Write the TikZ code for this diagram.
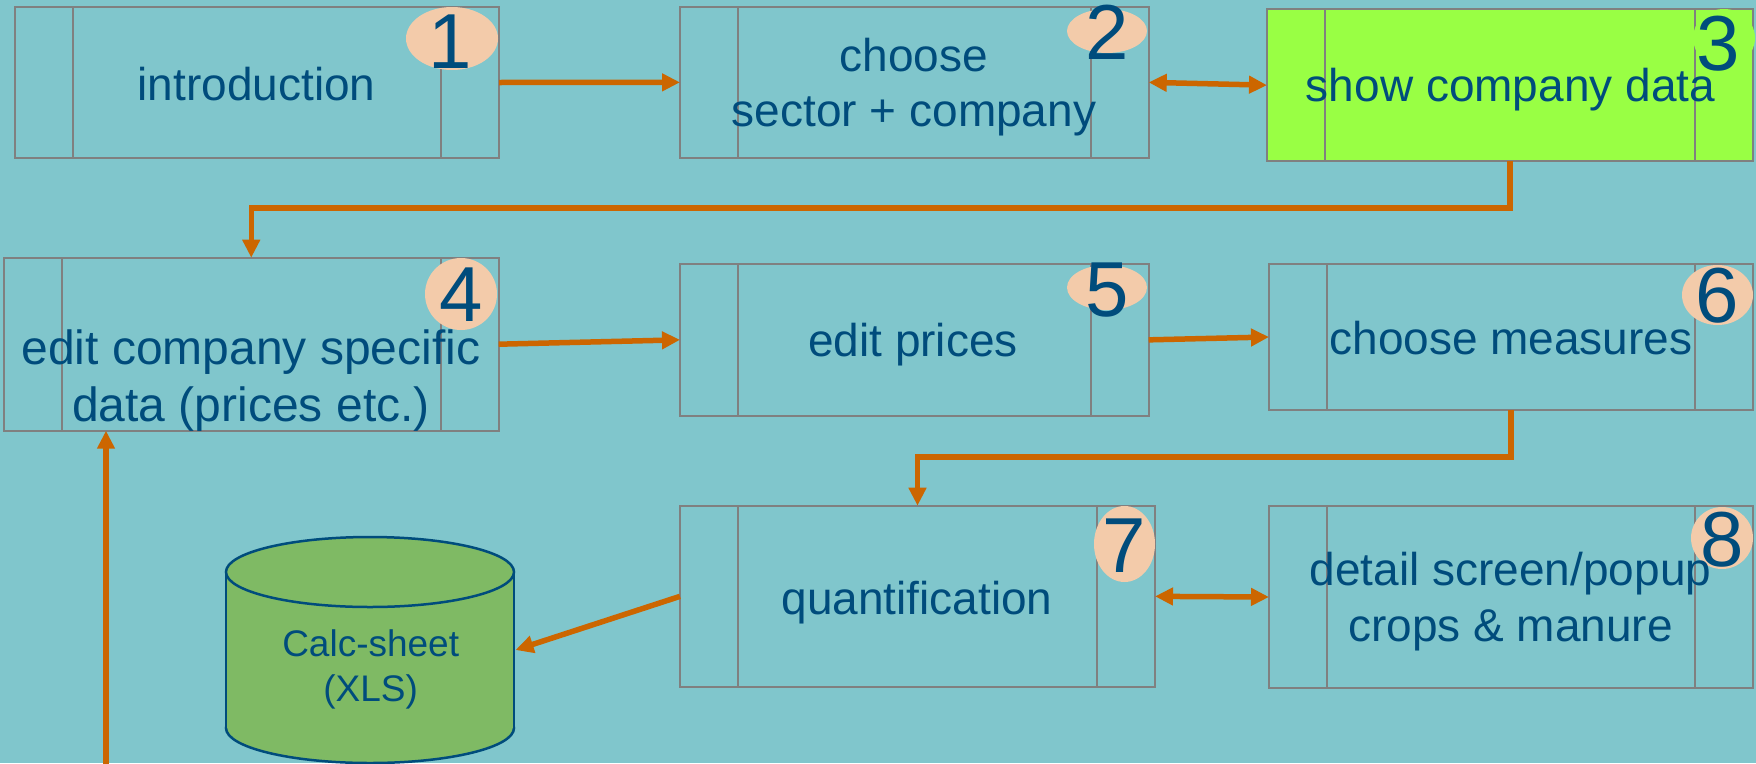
\documentclass[tikz,border=0pt]{standalone}
\usepackage{fontspec}
\setmainfont{Liberation Sans}
\usetikzlibrary{arrows.meta,shapes.geometric}
\definecolor{bg}{RGB}{128,198,204}
\definecolor{boxgray}{RGB}{128,128,128}
\definecolor{lime}{RGB}{153,255,68}
\definecolor{peach}{RGB}{243,203,170}
\definecolor{txt}{RGB}{0,76,124}
\definecolor{orng}{RGB}{204,102,0}
\definecolor{cylgreen}{RGB}{127,186,100}
\begin{document}
\begin{tikzpicture}[x=1pt,y=-1pt,
  box/.style={draw=boxgray, line width=2pt, rectangle, inner sep=0pt, outer sep=0pt},
  lbl/.style={text=txt, font=\fontsize{46}{55}\selectfont, inner sep=0pt, anchor=base},
  biglbl/.style={text=txt, font=\fontsize{48}{58}\selectfont, inner sep=0pt, anchor=base},
  smlbl/.style={text=txt, font=\fontsize{37}{45}\selectfont, inner sep=0pt, anchor=base},
  numell/.style={ellipse, fill=peach, inner sep=0pt, outer sep=0pt},
  digit/.style={text=txt, font=\fontsize{78}{90}\selectfont, inner sep=0pt},
  arr/.style={draw=orng, line width=5.5pt, -{Triangle[length=18pt,width=17pt]}},
  darr/.style={draw=orng, line width=5.5pt, {Triangle[length=18pt,width=17pt]}-{Triangle[length=18pt,width=17pt]}}]
\fill[bg] (0,0) rectangle (1756,763);
\useasboundingbox (0,0) rectangle (1756,763);

% boxes
\node[box, minimum width=484.5pt, minimum height=151pt] (b1) at (256.75,82.5) {};
\node[box, minimum width=468.7pt, minimum height=151.3pt] (b2) at (914.35,82.35) {};
\node[box, fill=lime, minimum width=486pt, minimum height=151.7pt] (b3) at (1510,85.15) {};
\node[box, minimum width=494.9pt, minimum height=173pt] (b4) at (251.25,344.2) {};
\node[box, minimum width=468.7pt, minimum height=151.7pt] (b5) at (914.35,339.85) {};
\node[box, minimum width=484pt, minimum height=146pt] (b6) at (1511,337) {};
\node[box, minimum width=475pt, minimum height=181.3pt] (b7) at (917.5,596.35) {};
\node[box, minimum width=484pt, minimum height=182pt] (b8) at (1511,597) {};
\foreach \n in {b1,b2,b3,b4,b5,b6,b7,b8}{
  \draw[boxgray, line width=2pt] ([xshift=58pt]\n.north west) -- ([xshift=58pt]\n.south west);
  \draw[boxgray, line width=2pt] ([xshift=-58pt]\n.north east) -- ([xshift=-58pt]\n.south east);
}

% number ellipses
\node[numell, minimum width=92pt, minimum height=63pt] (e1) at (452,38.5) {};
\node[numell, minimum width=80pt, minimum height=44pt] (e2) at (1107,31) {};
\node[ellipse, fill=lime, inner sep=0pt, minimum width=62pt, minimum height=58pt] (e3) at (1724,38) {};
\node[numell, minimum width=72pt, minimum height=72pt] (e4) at (461,294) {};
\node[numell, minimum width=80pt, minimum height=45pt] (e5) at (1107,287.5) {};
\node[numell, minimum width=71pt, minimum height=60pt] (e6) at (1717.5,295) {};
\node[numell, minimum width=61pt, minimum height=76pt] (e7) at (1124.5,544) {};
\node[numell, minimum width=62pt, minimum height=62pt] (e8) at (1722,538) {};

\node[digit] (d1) at (449.7,41.3) {1};
\node[digit] (d2) at (1107,32.5) {2};
\node[digit] (d3) at (1718,44) {3};
\node[digit] (d4) at (461,295) {4};
\node[digit] (d5) at (1107,290) {5};
\node[digit] (d6) at (1717,296) {6};
\node[digit] (d7) at (1124.6,545.8) {7};
\node[digit] (d8) at (1722,540) {8};

% texts
\node[lbl] (t1) at (256.5,100) {introduction};
\node[lbl] (t2a) at (914,71.7) {choose};
\node[lbl] (t2b) at (914,126.7) {sector + company};
\node[lbl] (t3) at (1510.5,101.7) {show company data};
\node[biglbl] (t4a) at (251,364) {edit company specific};
\node[biglbl] (t4b) at (251,421.7) {data (prices etc.)};
\node[lbl] (t5) at (913,356.7) {edit prices};
\node[lbl] (t6) at (1511,354) {choose measures};
\node[lbl] (t7) at (917,614) {quantification};
\node[lbl] (t8a) at (1510.5,585) {detail screen/popup};
\node[lbl] (t8b) at (1510.5,641.7) {crops \& manure};

% cylinder
\fill[cylgreen, draw=txt, line width=2.5pt] (370,728) ellipse [x radius=144pt, y radius=35pt];
\fill[cylgreen] (226,572) rectangle (514,728);
\draw[txt, line width=2.5pt] (226,572) -- (226,728);
\draw[txt, line width=2.5pt] (514,572) -- (514,728);
\fill[cylgreen, draw=txt, line width=2.5pt] (370,572) ellipse [x radius=144pt, y radius=35pt];
\node[smlbl] (c1) at (370.7,656.7) {Calc-sheet};
\node[smlbl] (c2) at (370.7,701.7) {(XLS)};
\coordinate (calcin) at (515.5,650);

% connectors
\coordinate (j1) at (0,208);
\coordinate (j2) at (0,457);
\coordinate (src) at (106,766);
\draw[arr] (b1.east) -- (b2.west);
\draw[darr] (b2.east) -- (b3.west);
\draw[arr, rounded corners=0pt] (b3.south) -- (b3.south |- j1) -| (b4.north);
\draw[arr] (b4.east) -- (b5.west);
\draw[arr] (b5.east) -- (b6.west);
\draw[arr] (b6.south) -- (b6.south |- j2) -| (b7.north);
\draw[darr] (b7.east) -- (b8.west);
\draw[arr] (b7.west) -- (calcin);
\draw[arr] (src) -- (b4.south -| src);
\end{tikzpicture}
\end{document}
